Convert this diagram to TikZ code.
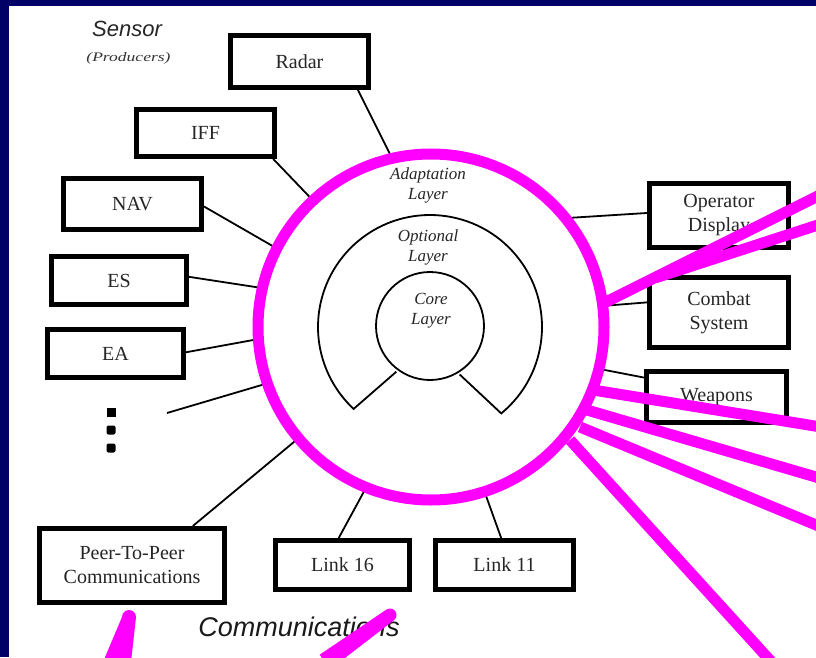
\documentclass[tikz,border=0pt]{standalone}
\usepackage{fontspec}
\setmainfont{Liberation Serif}
\setsansfont{Liberation Sans}
\usetikzlibrary{calc}
\definecolor{navy}{RGB}{0,0,102}
\definecolor{hilite}{RGB}{255,0,255}

\begin{document}
\begin{tikzpicture}[x=1pt,y=1pt,
  unit/.style={draw=black, line width=5pt, fill=white, inner sep=0pt,
    text=black!85, font=\fontsize{20}{24}\selectfont, align=center},
  link/.style={draw=black, line width=1.8pt},
  ring/.style={draw=black, line width=1.8pt},
  layer/.style={text=black!85, font=\fontsize{17}{20}\itshape\selectfont, align=center},
  hl/.style={draw=hilite, line width=11pt, line cap=butt},
  dotmark/.style={fill=black, minimum width=9pt, minimum height=9pt, inner sep=0pt}
]
% page frame
\useasboundingbox (0,0) rectangle (816,657);
\clip (0,0) rectangle (816,657);
\fill[navy] (0,0) rectangle (816,657);
\fill[white] (9,0) rectangle (816,651);

% outer adaptation layer (anchor node for the connectors)
\node[circle, minimum size=346pt, inner sep=0pt, outer sep=0pt] (adapt) at (431,330) {};

% sensor units
\node[unit, minimum width=138pt, minimum height=52pt] (radar) at (299.5,595.5) {Radar};
\node[unit, minimum width=138pt, minimum height=47pt] (iff)   at (205.5,524)   {IFF};
\node[unit, minimum width=138pt, minimum height=51pt] (nav)   at (132.5,453)   {NAV};
\node[unit, minimum width=135pt, minimum height=48pt] (es)    at (119,376.5)   {ES};
\node[unit, minimum width=136pt, minimum height=48pt] (ea)    at (115.5,303.5) {EA};

% consumers
\node[unit, minimum width=139pt, minimum height=64pt] (opdisp) at (719,441.5) {Operator\\Display};
\node[unit, minimum width=139pt, minimum height=70pt] (combat) at (719,344.5) {Combat\\System};
\node[unit, minimum width=140pt, minimum height=51pt] (weap)   at (716.5,260) {Weapons};

% communications
\node[unit, minimum width=185pt, minimum height=74pt] (peer)   at (132,91.5)   {Peer-To-Peer\\Communications};
\node[unit, minimum width=134pt, minimum height=49pt] (link16) at (342.5,92)   {Link 16};
\node[unit, minimum width=138pt, minimum height=49pt] (link11) at (504.5,92)   {Link 11};

% more sensors
\node[dotmark] (dota) at (111,244.5) {};
\node[dotmark, rounded corners=2pt] (dotb) at (111,227) {};
\node[dotmark, rounded corners=2pt] (dotc) at (111,209) {};
\coordinate (more) at (167,244);

% connectors
\draw[link] (radar.-26.4) -- (adapt.103.5);
\draw[link] (iff.-21.4)   -- (adapt.133.9);
\draw[link] (nav.-2.4)    -- (adapt.153.3);
\draw[link] (es.3.6)      -- (adapt.167.6);
\draw[link] (ea.1.2)      -- (adapt.184.1);
\draw[link] (more)        -- (adapt.199.6);
\draw[link] (peer.33.6)   -- (adapt.220);
\draw[link] (link16.98.5) -- (adapt.248);
\draw[link] (link11.97)   -- (adapt.288.4);
\draw[link] (weap.165.3)  -- (adapt.346);
\draw[link] (combat.172.5) -- (adapt.7.7);
\draw[link] (opdisp.178)  -- (adapt.39);

% layers
\draw[ring] (429,333) circle[radius=173];
\draw[hilite, line width=11pt] (adapt.center) circle[radius=173];
\draw[ring, shift={(430,330)}] (-58:56) -- (-50.5:112)
  arc[start angle=-50.5, end angle=227, radius=112] -- (233:56);
\node[circle, draw=black, line width=1.8pt, minimum size=108pt, inner sep=0pt] (core) at (430,331) {};

\node[layer] (adaptlbl) at (428,471.5) {Adaptation\\Layer};
\node[layer] (optlbl)   at (428,410)   {Optional\\Layer};
\node[layer] (corelbl)  at (431,346.5) {Core\\Layer};

% group captions
\node[font=\sffamily\itshape\fontsize{22}{22}\selectfont, text=black!85] (sensorlbl) at (127,628) {Sensor};
\node[font=\itshape\fontsize{13}{13}\selectfont, text=black!80] (prodlbl) at (128.5,599) {\scalebox{1.35}[1]{(Producers)}};
\node[font=\sffamily\itshape\fontsize{27}{27}\selectfont, text=black!90] (commlbl) at (299,30) {Communications};

% highlight strokes
\draw[hl] (600,352) -- (821,462.5);
\draw[hl] (655,379) -- (821,433);
\draw[hl] (593,267) -- (821,230);
\draw[hl] (587,247) -- (821,178.5);
\draw[hl] (580,230) -- (821,130);
\draw[hl] (570,217) -- (771.5,-5);
\fill[hilite] (129,40) circle[radius=7];
\fill[hilite] (122,40) -- (136,40) -- (131,-5) -- (103,-5) -- cycle;
\fill[hilite] (390,42) circle[radius=6.5];
\fill[hilite] (393.8,36.7) -- (386.2,47.3) -- (319.7,2.3) -- (330.3,-12.3) -- cycle;
\end{tikzpicture}
\end{document}
